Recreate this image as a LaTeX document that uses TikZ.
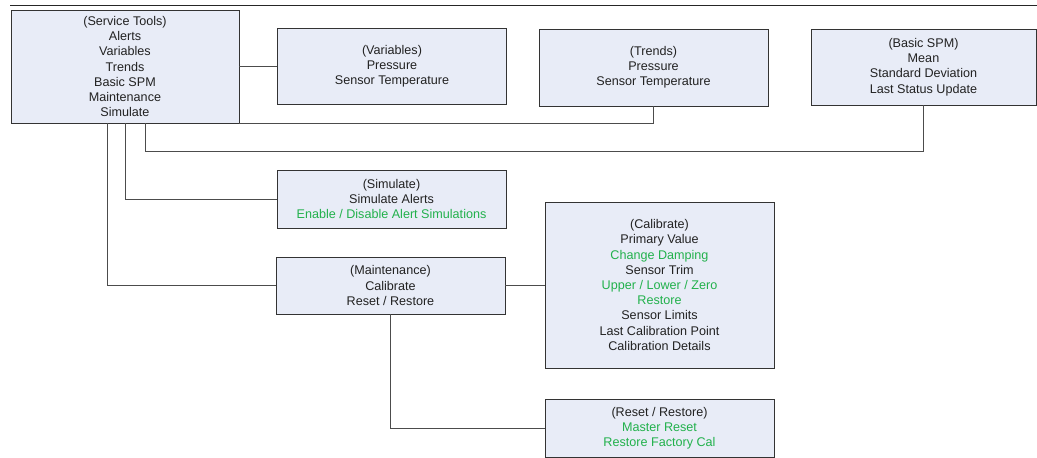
\documentclass[tikz,border=0pt]{standalone}
\usepackage{fontspec}
\setmainfont{Liberation Sans}
\definecolor{boxfill}{RGB}{232,236,247}
\definecolor{optgreen}{RGB}{34,177,76}
\definecolor{txtgray}{RGB}{34,34,34}
\newcommand{\opt}[1]{\textcolor{optgreen}{#1}}
\begin{document}
\begin{tikzpicture}[x=1pt,y=-1pt,
    box/.style={draw=black!80, line width=0.9pt, fill=boxfill, align=center, inner sep=0pt,
        text=txtgray, font=\fontsize{12.6}{15.2}\selectfont},
    link/.style={draw=black!70, line width=0.9pt}]
    \useasboundingbox (0,0) rectangle (1037,458);
    \draw[black!85, line width=1pt] (10,5) -- (1037,5);

    \node[box, minimum width=228, minimum height=113] (tools) at (125,66.5)
        {(Service Tools)\\Alerts\\Variables\\Trends\\Basic SPM\\Maintenance\\Simulate};
    \node[box, minimum width=229, minimum height=76] (vars) at (392,66)
        {(Variables)\\Pressure\\Sensor Temperature};
    \node[box, minimum width=229, minimum height=77] (trends) at (653.5,67.5)
        {(Trends)\\Pressure\\Sensor Temperature};
    \node[box, minimum width=225, minimum height=76] (spm) at (923.5,67)
        {(Basic SPM)\\Mean\\Standard Deviation\\Last Status Update};
    \node[box, minimum width=229, minimum height=58] (sim) at (391.5,199)
        {(Simulate)\\Simulate Alerts\\\opt{Enable / Disable Alert Simulations}};
    \node[box, minimum width=229, minimum height=57] (maint) at (390.5,285.5)
        {(Maintenance)\\Calibrate\\Reset / Restore};
    \node[box, minimum width=229, minimum height=166] (calib) at (659.5,285)
        {(Calibrate)\\Primary Value\\\opt{Change Damping}\\Sensor Trim\\\opt{Upper / Lower / Zero}\\\opt{Restore}\\Sensor Limits\\Last Calibration Point\\Calibration Details};
    \node[box, minimum width=229, minimum height=58] (reset) at (659.5,428)
        {(Reset / Restore)\\\opt{Master Reset}\\\opt{Restore Factory Cal}};

    \draw[link] (vars.west -| tools.east) -- (vars.west);
    \draw[link] (tools.south east) -| (trends.south);
    \draw[link] ([xshift=20]tools.south) -- ++(0,28) -| (spm.south);
    \draw[link] (tools.south) |- (sim.west);
    \draw[link] ([xshift=-18]tools.south) |- (maint.west);
    \draw[link] (maint.east) -- (maint.east -| calib.west);
    \draw[link] (maint.south) |- (reset.west);
\end{tikzpicture}
\end{document}
